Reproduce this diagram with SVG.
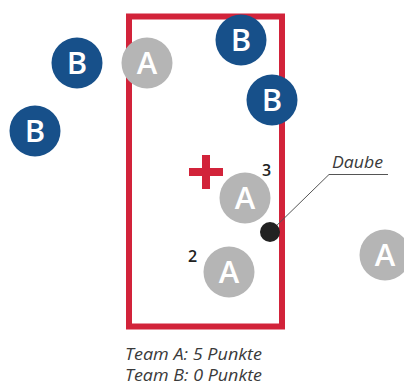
<svg xmlns="http://www.w3.org/2000/svg" width="404" height="387" viewBox="0 0 404 387">
<style>
.b circle{fill:#17508a}
.a circle{fill:#b5b5b5}
.lbl{font-family:"Open Sans","Noto Sans",sans-serif;font-weight:600;font-size:31px;fill:#fff;text-anchor:middle}
.num{font-family:"Open Sans","Noto Sans",sans-serif;font-weight:600;font-size:16px;fill:#222}
.cap{font-family:"Open Sans","Noto Sans",sans-serif;font-style:italic;font-size:17px;fill:#3a3a3a}
</style>
<rect width="404" height="387" fill="#fff"/>
<g id="field"><rect x="129" y="16.5" width="153" height="310" fill="none" stroke="#d2233a" stroke-width="6"/></g>
<g id="cross" fill="#d2233a"><rect x="189" y="168" width="34" height="8"/><rect x="202" y="155" width="8" height="34"/></g>
<g id="connectors"><polyline points="270,232 329,174.5 388,174.5" fill="none" stroke="#555" stroke-width="1"/></g>
<g id="b1" class="b"><circle cx="77" cy="63" r="25.5"/><text class="lbl" x="77" y="74">B</text></g>
<g id="b2" class="b"><circle cx="35" cy="131" r="25.5"/><text class="lbl" x="35" y="142">B</text></g>
<g id="b3" class="b"><circle cx="241" cy="40" r="25.5"/><text class="lbl" x="241" y="51">B</text></g>
<g id="b4" class="b"><circle cx="272" cy="100" r="25.5"/><text class="lbl" x="272" y="111">B</text></g>
<g id="a1" class="a"><circle cx="147" cy="63" r="25.5"/><text class="lbl" x="147" y="74">A</text></g>
<g id="a2" class="a"><circle cx="245" cy="198" r="25.5"/><text class="lbl" x="245" y="209">A</text></g>
<g id="a3" class="a"><circle cx="229" cy="272" r="25.5"/><text class="lbl" x="229" y="283">A</text></g>
<g id="a4" class="a"><circle cx="385" cy="255" r="25.5"/><text class="lbl" x="385" y="266">A</text></g>
<g id="daube"><circle cx="270" cy="232" r="10" fill="#222"/><text class="cap" x="332" y="168" textLength="51" lengthAdjust="spacingAndGlyphs">Daube</text></g>
<text class="num" x="262" y="176">3</text>
<text class="num" x="188" y="262">2</text>
<text class="cap" x="125" y="360" textLength="137" lengthAdjust="spacingAndGlyphs">Team A: 5 Punkte</text>
<text class="cap" x="125" y="381" textLength="137" lengthAdjust="spacingAndGlyphs">Team B: 0 Punkte</text>
</svg>
